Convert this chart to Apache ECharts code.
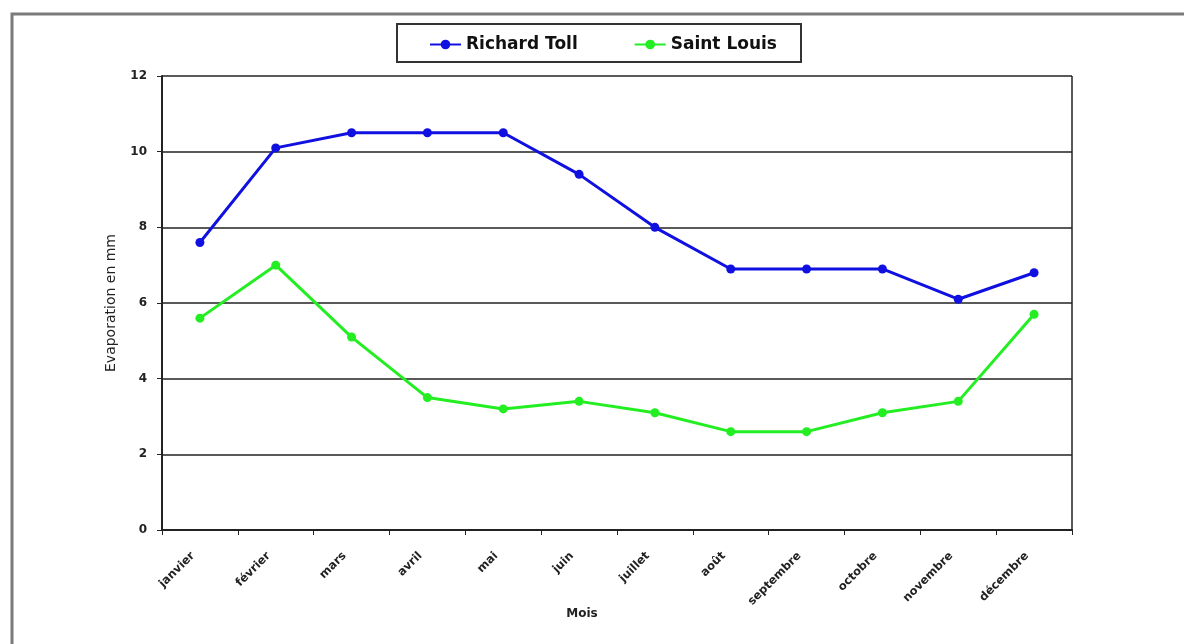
<!DOCTYPE html>
<html><head><meta charset="utf-8">
<script src="https://cdn.jsdelivr.net/npm/echarts@6/dist/echarts.min.js"></script>
<style>html,body{margin:0;padding:0;background:#fff}#c{width:1184px;height:644px}</style>
</head><body><div id="c"></div>
<script>
const months = ['janvier','février','mars','avril','mai','juin','juillet','août','septembre','octobre','novembre','décembre'];
const richardToll = [7.6,10.1,10.5,10.5,10.5,9.4,8.0,6.9,6.9,6.9,6.1,6.8];
const saintLouis = [5.6,7.0,5.1,3.5,3.2,3.4,3.1,2.6,2.6,3.1,3.4,5.7];
const yTicks = [0,2,4,6,8,10,12];

const chart = echarts.init(document.getElementById('c'));
const font = '"DejaVu Sans", Arial, sans-serif';
chart.setOption({
  animation:false,
  backgroundColor:'#fff',
  graphic:[
    {type:'rect',shape:{x:12,y:14,width:1200,height:640},style:{fill:'none',stroke:'#7a7a7a',lineWidth:3}},
    {type:'rect',shape:{x:397,y:24,width:404,height:38},style:{fill:'#fff',stroke:'#333',lineWidth:2}},
    {type:'line',shape:{x1:1072,y1:76,x2:1072,y2:530},style:{stroke:'#222',lineWidth:1.5}}
  ],
  legend:{
    top:31,left:424,
    itemGap:56,itemWidth:31,itemHeight:12,
    textStyle:{fontFamily:font,fontWeight:'bold',fontSize:17,color:'#111'},
    data:['Richard Toll','Saint Louis']
  },
  grid:{left:162,right:112,top:76,bottom:114},
  xAxis:{
    type:'category',data:months,boundaryGap:true,
    name:'Mois',nameLocation:'middle',nameGap:78,nameMoveOverlap:false,
    nameTextStyle:{fontFamily:font,fontWeight:'bold',fontSize:12,color:'#222',padding:[0,70,0,0]},
    axisLine:{lineStyle:{color:'#222',width:2}},
    axisTick:{show:true,alignWithLabel:false,length:5,lineStyle:{color:'#222'}},
    axisLabel:{rotate:45,fontFamily:font,fontWeight:'bold',fontSize:11.5,color:'#222',margin:17,padding:[0,10,0,0]}
  },
  yAxis:{
    type:'value',min:0,max:12,interval:2,
    name:'Evaporation en mm',nameLocation:'middle',nameGap:44,nameRotate:90,
    nameTextStyle:{fontFamily:font,fontSize:14,color:'#222'},
    axisLine:{show:true,lineStyle:{color:'#222',width:2}},
    axisTick:{show:true,length:5,inside:false,lineStyle:{color:'#222'}},
    axisLabel:{fontFamily:font,fontWeight:'bold',fontSize:12,color:'#222',margin:15,
      formatter:v=>yTicks.includes(v)?String(v):''},
    splitLine:{show:true,lineStyle:{color:'#222',width:1.5}}
  },
  series:[
    {name:'Richard Toll',type:'line',data:richardToll,color:'#1010e0',
     symbol:'circle',symbolSize:9,lineStyle:{width:3,color:'#1010e0'},itemStyle:{color:'#1010e0'}},
    {name:'Saint Louis',type:'line',data:saintLouis,color:'#22ee22',
     symbol:'circle',symbolSize:9,lineStyle:{width:3,color:'#22ee22'},itemStyle:{color:'#22ee22'}}
  ]
});
</script></body></html>
